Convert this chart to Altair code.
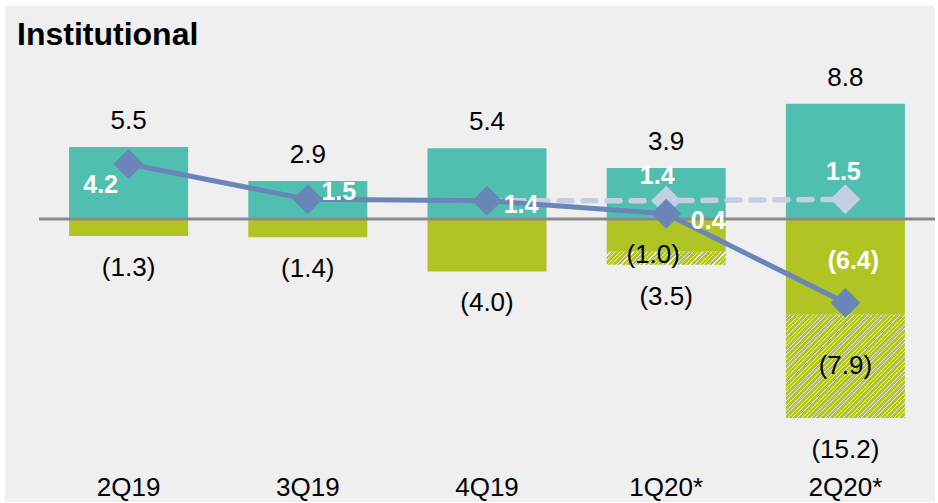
import altair as alt
import pandas as pd

# Quarterly institutional flows (bn)
quarters = ["2Q19", "3Q19", "4Q19", "1Q20*", "2Q20*"]
inflows = [5.5, 2.9, 5.4, 3.9, 8.8]
outflows = [-1.3, -1.4, -4.0, -3.5, -15.2]
one_off = [0.0, 0.0, 0.0, -1.0, -7.9]          # part of outflows shown hatched
net_flows = [4.2, 1.5, 1.4, 0.4, -6.4]
net_ex_one_off = [None, None, 1.4, 1.4, 1.5]

TEAL = "#50BFAF"
OLIVE = "#B0C424"
BLUE = "#6A86B9"
LIGHT = "#C4CFE3"
GREY = "#8A8A8A"
FONT = "Liberation Sans"

# plot geometry (pixels)
W, H = 930, 496
PX_PER_UNIT = 13.1
ZERO_Y = 213
Y_TOP = ZERO_Y / PX_PER_UNIT
Y_BOTTOM = -(H - ZERO_Y) / PX_PER_UNIT
X_RANGE = [34, 930]
BAR_W = 119


def paren(v):
    return f"({abs(v):.1f})" if v < 0 else f"{v:.1f}"


df = pd.DataFrame({
    "q": quarters,
    "inflow": inflows,
    "outflow": outflows,
    "solid_out": [o - h for o, h in zip(outflows, one_off)],
    "one_off": one_off,
    "one_off_mid": [(o - h) + h / 2 for o, h in zip(outflows, one_off)],
    "net": net_flows,
    "net_ex": [v if v is not None else 0.0 for v in net_ex_one_off],
    "has_ex": [v is not None for v in net_ex_one_off],
})
df["zero"] = 0.0
df["in_lbl"] = [paren(v) for v in inflows]
df["out_lbl"] = [paren(v) for v in outflows]
df["oo_lbl"] = [paren(v) for v in one_off]
df["net_lbl"] = [paren(v) for v in net_flows]
df["ex_lbl"] = [paren(v) if v is not None else "" for v in net_ex_one_off]
df["title"] = "Institutional"

x = alt.X("q:N", sort=quarters, axis=None,
          scale=alt.Scale(range=X_RANGE, paddingInner=0.336, paddingOuter=0.168))
yscale = alt.Scale(domain=[Y_BOTTOM, Y_TOP], nice=False, zero=False)


def Y(field):
    return alt.Y(f"{field}:Q", scale=yscale, axis=None)


base = alt.Chart(df).encode(x=x)


def only(q):
    return base.transform_filter(f"datum.q == '{q}'")


def hatch(width_px, height_px, period=4.6, fill_frac=0.76):
    """Diagonal /// stripes built from a hard-stop linear gradient."""
    c = (width_px + height_px) / (width_px ** 2 + height_px ** 2)
    length = width_px + height_px
    stops = []
    pos = 0.0
    while pos < length:
        a = pos / length
        b = min((pos + period * fill_frac) / length, 1.0)
        e = min((pos + period) / length, 1.0)
        stops += [alt.GradientStop(offset=a, color=OLIVE),
                  alt.GradientStop(offset=b, color=OLIVE),
                  alt.GradientStop(offset=b, color="#FFFFFF"),
                  alt.GradientStop(offset=e, color="#FFFFFF")]
        pos += period
    return alt.LinearGradient(gradient="linear", stops=stops,
                              x1=0, y1=0, x2=width_px * c, y2=height_px * c)


teal_bars = base.mark_bar(color=TEAL, size=BAR_W).encode(y=Y("zero"), y2="inflow:Q")
olive_bars = base.mark_bar(color=OLIVE, size=BAR_W).encode(y=Y("zero"), y2="solid_out:Q")

hatched = []
for q, h in zip(quarters, one_off):
    if h < 0:
        hatched.append(
            only(q).mark_bar(color=hatch(BAR_W, abs(h) * PX_PER_UNIT), size=BAR_W)
            .encode(y=Y("solid_out"), y2="outflow:Q")
        )

zero_rule = only(quarters[0]).mark_rule(color=GREY, strokeWidth=3).encode(
    y=Y("zero"), x=alt.value(X_RANGE[0]), x2=alt.value(X_RANGE[1]))

ex_base = base.transform_filter("datum.has_ex")
ex_line = ex_base.mark_line(color=LIGHT, strokeWidth=5.5, strokeDash=[13, 11],
                            strokeCap="round").encode(y=Y("net_ex"))
ex_pts = base.transform_filter("datum.q == '1Q20*' || datum.q == '2Q20*'").mark_point(
    shape="diamond", filled=True, size=900, color=LIGHT, opacity=1).encode(y=Y("net_ex"))

net_line = base.mark_line(color=BLUE, strokeWidth=5).encode(y=Y("net"))
net_pts = base.mark_point(shape="diamond", filled=True, size=900, color=BLUE,
                          opacity=1).encode(y=Y("net"))

txt = dict(font=FONT, fontSize=26, baseline="middle", align="center")
bold_txt = dict(font=FONT, fontSize=25, baseline="middle", align="center")

top_lbl = base.mark_text(dy=-26, color="black", **txt).encode(y=Y("inflow"), text="in_lbl:N")
bot_lbl = base.mark_text(dy=32, color="black", **txt).encode(y=Y("outflow"), text="out_lbl:N")
cat_lbl = base.mark_text(color="black", **txt).encode(y=alt.value(482), text="q:N")


def tag(q, field, label, dx, dy, color="white", bold=True):
    style = bold_txt if bold else txt
    return only(q).mark_text(
        dx=dx, dy=dy, color=color, fontWeight="bold" if bold else "normal", **style
    ).encode(y=Y(field), text=f"{label}:N")


tags = [
    tag("2Q19", "net", "net_lbl", -28, 21),
    tag("3Q19", "net", "net_lbl", 31, -7),
    tag("4Q19", "net", "net_lbl", 34, 4),
    tag("1Q20*", "net", "net_lbl", 42, 7),
    tag("1Q20*", "net_ex", "ex_lbl", -9, -25),
    tag("2Q20*", "net_ex", "ex_lbl", -2, -27),
    tag("2Q20*", "net", "net_lbl", 8, -42),
    tag("1Q20*", "one_off_mid", "oo_lbl", -13, -3, color="black", bold=False),
    tag("2Q20*", "one_off_mid", "oo_lbl", 0, 0, color="black", bold=False),
]

title = only(quarters[0]).mark_text(
    font=FONT, fontSize=32, fontWeight="bold", align="left", baseline="alphabetic",
    color="black"
).encode(text="title:N", x=alt.value(12), y=alt.value(39))

chart = alt.layer(
    teal_bars, olive_bars, *hatched, zero_rule,
    ex_line, ex_pts, net_line, net_pts,
    top_lbl, bot_lbl, cat_lbl, *tags, title,
).properties(
    width=W, height=H,
    autosize=alt.AutoSizeParams(type="none"),
    padding={"left": 5, "top": 6, "right": 3, "bottom": 1},
    background="white",
).configure_view(fill="#EFEFEF", strokeWidth=0)

chart.save("out.html", embed_options={"renderer": "svg", "actions": False})
